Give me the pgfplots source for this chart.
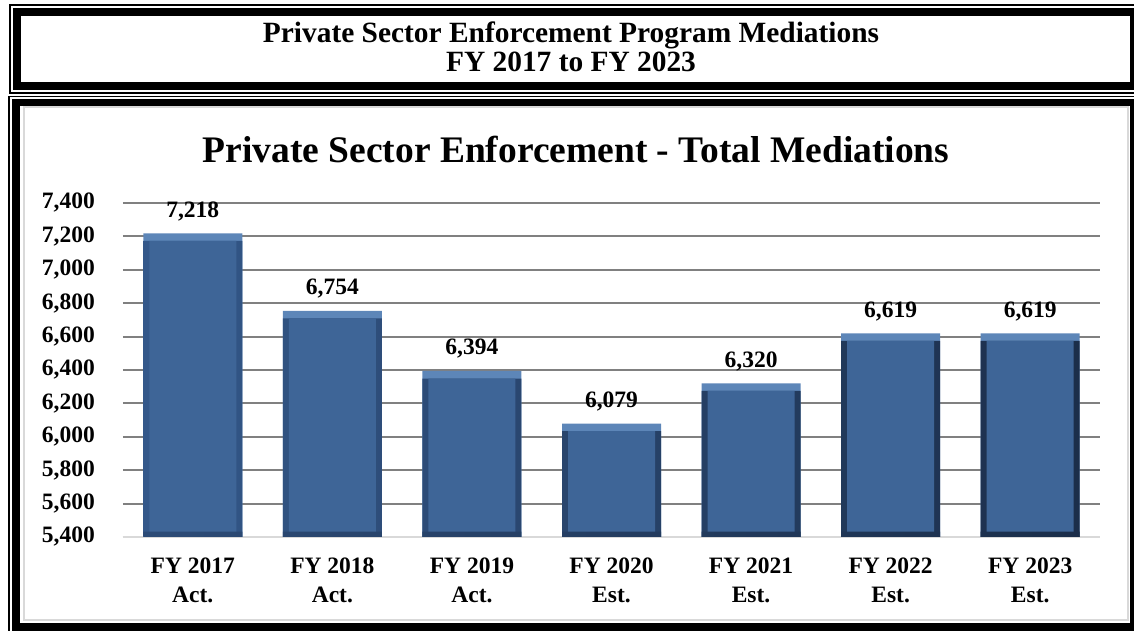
\documentclass[border=0pt]{standalone}
\usepackage{fontspec}
\setmainfont{Liberation Serif}
\usepackage{pgfplots}
\pgfplotsset{compat=1.18}
\definecolor{gridgray}{HTML}{808080}
\definecolor{barmain}{HTML}{3E6597}
\definecolor{barlight}{HTML}{5D86B8}
\definecolor{barmid}{HTML}{34588A}
\definecolor{bardark}{HTML}{1B2E4A}
\definecolor{framegray}{HTML}{D9D9D9}
\begin{document}
\begin{tikzpicture}[x=1pt,y=1pt]
\begin{axis}[
  width=977pt, height=334pt, scale only axis,
  xmin=-0.5, xmax=6.5, ymin=5400, ymax=7400,
  ytick={5400,5600,...,7400},
  xtick={0,...,6},
  xticklabels={{FY 2017\\Act.},{FY 2018\\Act.},{FY 2019\\Act.},{FY 2020\\Est.},{FY 2021\\Est.},{FY 2022\\Est.},{FY 2023\\Est.}},
  ymajorgrids, grid style={gridgray, line width=2pt},
  axis x line*=bottom, axis y line*=left,
  x axis line style={framegray, line width=1.5pt, -},
  y axis line style={draw=none},
  tick style={draw=none},
  ybar, bar shift=0pt,
  clip mode=individual,
  yticklabel style={font=\fontsize{23.5}{28}\selectfont\bfseries, anchor=east, inner sep=0pt, xshift=-28pt,
    /pgf/number format/.cd, 1000 sep={,}, assume math mode=true},
  xticklabel style={font=\fontsize{23.5}{29}\selectfont\bfseries, align=center, anchor=north, inner sep=0pt, yshift=-16pt},
]
% light top bevel
\addplot[draw=none, fill=barlight, bar width=99pt] coordinates {(0,7218) (1,6754) (2,6394) (3,6079) (4,6320) (5,6619) (6,6619)};
% side bevels
\addplot[draw=none, left color=barmid, right color=bardark, bar width=99pt] coordinates {(0,7173) (1,6709) (2,6349) (3,6034) (4,6275) (5,6574) (6,6574)};
% face
\addplot[draw=none, fill=barmain, bar width=87pt] coordinates {(0,7173) (1,6709) (2,6349) (3,6034) (4,6275) (5,6574) (6,6574)};
% bottom bevel
\addplot[draw=none, left color=barmid!70!bardark, right color=bardark, bar width=99pt] coordinates {(0,5432) (1,5432) (2,5432) (3,5432) (4,5432) (5,5432) (6,5432)};
% value labels
\addplot[draw=none, fill=none, bar width=99pt, nodes near coords,
  every node near coord/.append style={anchor=base, yshift=16pt, inner sep=0pt,
    font=\fontsize{23.5}{28}\selectfont\bfseries,
    /pgf/number format/.cd, 1000 sep={,}, assume math mode=true}]
  coordinates {(0,7218) (1,6754) (2,6394) (3,6079) (4,6320) (5,6619) (6,6619)};
\coordinate (pll) at (rel axis cs:0,0);
\end{axis}

% everything else placed relative to the plot area's lower-left corner (123,94)
\begin{scope}[shift={(pll)}]
\begin{scope}[shift={(-123,-94)}]
  \pgfresetboundingbox
  \useasboundingbox (0,0) rectangle (1134,631);
  \begin{scope}
    \clip (0,0) rectangle (1134,631);
    % top frame
    \draw[line width=1.5pt] (10,626) rectangle (1150,538);
    \draw[line width=8pt] (17,619) rectangle (1133.5,545);
    % bottom frame
    \draw[line width=1.5pt] (9,534.5) rectangle (1150,-20);
    \draw[line width=7.5pt] (16,528.5) rectangle (1134,4);
    \draw[framegray, line width=1.5pt] (24,524) rectangle (1128,11);
  \end{scope}
  \node[anchor=base, font=\fontsize{29.4}{33}\selectfont\bfseries] at (571,588) {Private Sector Enforcement Program Mediations};
  \node[anchor=base, font=\fontsize{29.4}{33}\selectfont\bfseries] at (571,559) {FY 2017 to FY 2023};
  \node[anchor=base, font=\fontsize{37.5}{40}\selectfont\bfseries] at (576,468) {Private Sector Enforcement - Total Mediations};
\end{scope}
\end{scope}
\end{tikzpicture}
\end{document}
